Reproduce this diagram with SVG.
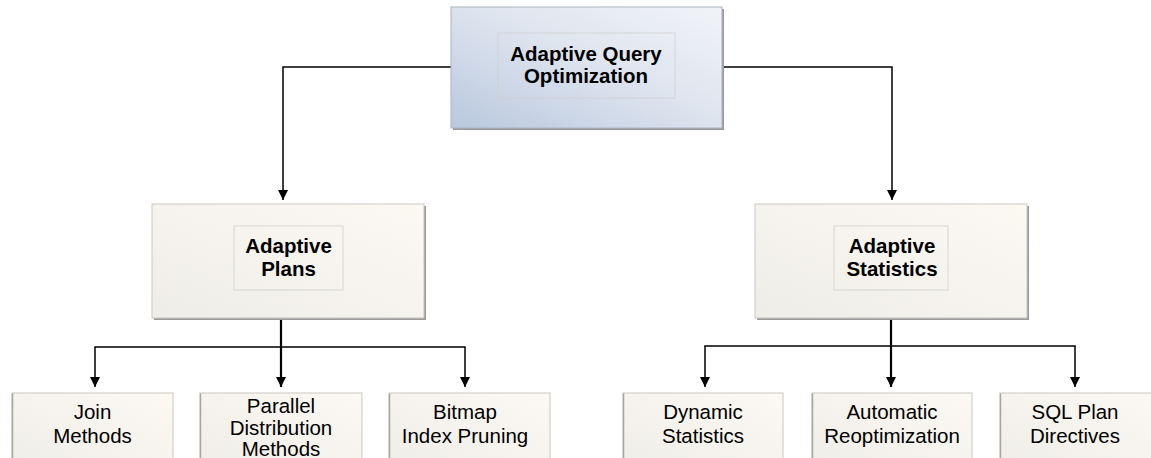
<svg xmlns="http://www.w3.org/2000/svg" width="1151" height="458" viewBox="0 0 1151 458">
<defs>
<linearGradient id="gTop" x1="0" y1="1" x2="1" y2="0">
<stop offset="0" stop-color="#b9c8de"/>
<stop offset="0.55" stop-color="#dfe5ef"/>
<stop offset="1" stop-color="#f1f3f7"/>
</linearGradient>
<linearGradient id="gBox" x1="0" y1="1" x2="1" y2="0">
<stop offset="0" stop-color="#efede7"/>
<stop offset="1" stop-color="#fbf9f2"/>
</linearGradient>
<marker id="arr" markerUnits="userSpaceOnUse" viewBox="0 0 10 10" markerWidth="10" markerHeight="11" refX="10" refY="5" orient="auto">
<path d="M0,0 L10,5 L0,10 z" fill="#000"/>
</marker>
<style>
.shadow{fill:#9a9a9a;}
.top{fill:url(#gTop);stroke:#a9b4c6;stroke-width:1;}
.box{fill:url(#gBox);stroke:#c9c7c1;stroke-width:1;}
.sbox{fill:url(#gBox);stroke:#c9c7c1;stroke-width:1;}
.edge{fill:none;stroke:#a8a6a0;stroke-width:1.5;}
.inner{fill:none;stroke:#cfcfcf;stroke-width:0.8;}
.bt{font-family:"Liberation Sans",Arial,sans-serif;font-weight:bold;font-size:20.5px;fill:#000;text-anchor:middle;}
.rt{font-family:"Liberation Sans",Arial,sans-serif;font-size:20.5px;fill:#000;text-anchor:middle;}
.ln{fill:none;stroke:#000;stroke-width:1.5;}
.lt{fill:none;stroke:#000;stroke-width:2.2;}
</style>
</defs>
<rect width="1151" height="458" fill="#fff"/>

<g id="connectors">
<polyline class="ln" points="451,67 283,67 283,200" marker-end="url(#arr)"/>
<polyline class="ln" points="722,67 892,67 892,200" marker-end="url(#arr)"/>
<line class="lt" x1="281" y1="318" x2="281" y2="387" marker-end="url(#arr)"/>
<polyline class="ln" points="281,347 95,347 95,387" marker-end="url(#arr)"/>
<polyline class="ln" points="281,347 465,347 465,387" marker-end="url(#arr)"/>
<line class="lt" x1="891" y1="318" x2="891" y2="387" marker-end="url(#arr)"/>
<polyline class="ln" points="891,346 705,346 705,387" marker-end="url(#arr)"/>
<polyline class="ln" points="891,346 1075,346 1075,387" marker-end="url(#arr)"/>
</g>

<g id="node-aqo">
<rect class="shadow" x="453" y="9" width="271" height="121"/>
<rect class="top" x="451" y="7" width="271" height="121"/>
<rect class="inner" x="498" y="33" width="177" height="65"/>
<text class="bt" x="586" y="61">Adaptive Query</text>
<text class="bt" x="586" y="83">Optimization</text>
</g>

<g id="node-plans">
<rect class="shadow" x="154" y="206" width="272" height="114"/>
<rect class="box" x="152" y="204" width="272" height="114"/>
<rect class="inner" x="234" y="226" width="109" height="64"/>
<text class="bt" x="288.5" y="253">Adaptive</text>
<text class="bt" x="288.5" y="276">Plans</text>
</g>

<g id="node-stats">
<rect class="shadow" x="757" y="206" width="272" height="114"/>
<rect class="box" x="755" y="204" width="272" height="114"/>
<rect class="inner" x="834" y="226" width="114" height="64"/>
<text class="bt" x="892" y="253">Adaptive</text>
<text class="bt" x="892" y="276">Statistics</text>
</g>

<g id="node-join">
<rect class="sbox" x="12" y="393" width="161" height="80"/>
<path class="edge" d="M12.5,473 V393.5"/>
<text class="rt" x="92.5" y="419">Join</text>
<text class="rt" x="92.5" y="443">Methods</text>
</g>

<g id="node-parallel">
<rect class="sbox" x="200" y="393" width="162" height="80"/>
<path class="edge" d="M200.5,473 V393.5"/>
<text class="rt" x="281" y="413">Parallel</text>
<text class="rt" x="281" y="435">Distribution</text>
<text class="rt" x="281" y="456">Methods</text>
</g>

<g id="node-bitmap">
<rect class="sbox" x="389" y="393" width="161" height="80"/>
<path class="edge" d="M389.5,473 V393.5"/>
<text class="rt" x="465" y="419">Bitmap</text>
<text class="rt" x="465" y="443">Index Pruning</text>
</g>

<g id="node-dynamic">
<rect class="sbox" x="623" y="393" width="160" height="80"/>
<path class="edge" d="M623.5,473 V393.5"/>
<text class="rt" x="703" y="419">Dynamic</text>
<text class="rt" x="703" y="443">Statistics</text>
</g>

<g id="node-reopt">
<rect class="sbox" x="812" y="393" width="160" height="80"/>
<path class="edge" d="M812.5,473 V393.5"/>
<text class="rt" x="892" y="419">Automatic</text>
<text class="rt" x="892" y="443">Reoptimization</text>
</g>

<g id="node-sqlpd">
<rect class="sbox" x="1000" y="393" width="160" height="80"/>
<path class="edge" d="M1000.5,473 V393.5"/>
<text class="rt" x="1075" y="419">SQL Plan</text>
<text class="rt" x="1075" y="443">Directives</text>
</g>
</svg>
